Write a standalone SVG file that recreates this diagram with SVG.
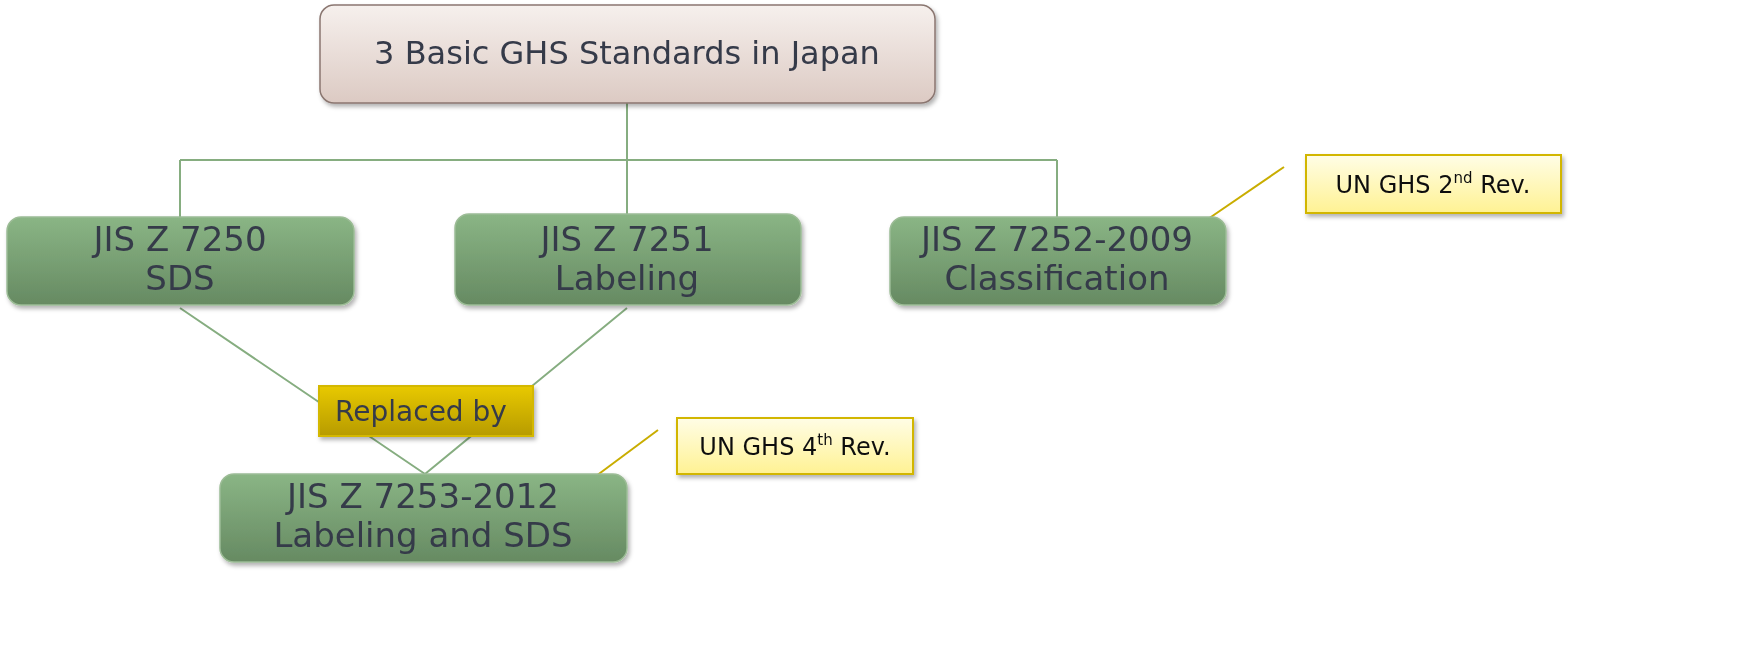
<svg xmlns="http://www.w3.org/2000/svg" width="1754" height="659" viewBox="0 0 1754 659">
<style>
text{font-family:"DejaVu Sans","Noto Sans",sans-serif;fill:#363a4a;text-anchor:middle}
.g{fill:url(#gg);stroke:#9cbc96;stroke-width:1.5}
.t{font-size:34px}
.c{fill:url(#yg);stroke:#d2b600;stroke-width:2}
.ct{font-size:24px;fill:#111}
.ln{stroke:#86ad80;stroke-width:2;fill:none}
.yl{stroke:#c9ad00;stroke-width:2}
</style>
<defs>
<linearGradient id="gg" x1="0" y1="0" x2="0" y2="1"><stop offset="0" stop-color="#8ab585"/><stop offset="1" stop-color="#668a62"/></linearGradient>
<linearGradient id="pg" x1="0" y1="0" x2="0" y2="1"><stop offset="0" stop-color="#f6f0ed"/><stop offset="1" stop-color="#dccac3"/></linearGradient>
<linearGradient id="yg" x1="0" y1="0" x2="0" y2="1"><stop offset="0" stop-color="#fffde6"/><stop offset="1" stop-color="#fff293"/></linearGradient>
<linearGradient id="og" x1="0" y1="0" x2="0" y2="1"><stop offset="0" stop-color="#e8c900"/><stop offset="1" stop-color="#b79b00"/></linearGradient>
<filter id="sh" x="-10%" y="-10%" width="120%" height="130%"><feDropShadow dx="2" dy="3" stdDeviation="2" flood-opacity="0.3"/></filter>
</defs>
<g id="connectors">
<path class="ln" d="M627 103V160M180 160H1057M180 160V217M627 160V214M1057 160V217M180 308L425 474M627 308L425 474"/>
<line class="yl" x1="1284" y1="167" x2="1208" y2="219"/>
<line class="yl" x1="658" y1="430" x2="588" y2="482"/>
</g>
<g id="top" filter="url(#sh)"><rect x="320" y="5" width="615" height="98" rx="14" fill="url(#pg)" stroke="#8a7670" stroke-width="1.5"/><text x="627" y="64" font-size="32">3 Basic GHS Standards in Japan</text></g>
<g id="n7250" filter="url(#sh)"><rect class="g" x="7" y="217" width="347" height="88" rx="14"/><text class="t" x="180" y="251">JIS Z 7250</text><text class="t" x="180" y="290">SDS</text></g>
<g id="n7251" filter="url(#sh)"><rect class="g" x="455" y="214" width="346" height="91" rx="14"/><text class="t" x="627" y="251">JIS Z 7251</text><text class="t" x="627" y="290">Labeling</text></g>
<g id="n7252" filter="url(#sh)"><rect class="g" x="890" y="217" width="336" height="88" rx="14"/><text class="t" x="1057" y="251">JIS Z 7252-2009</text><text class="t" x="1057" y="290">Classification</text></g>
<g id="n7253" filter="url(#sh)"><rect class="g" x="220" y="474" width="407" height="88" rx="14"/><text class="t" x="423" y="508">JIS Z 7253-2012</text><text class="t" x="423" y="547">Labeling and SDS</text></g>
<g id="replaced" filter="url(#sh)"><rect x="319" y="386" width="214" height="50" fill="url(#og)" stroke="#d4b800" stroke-width="2"/><text x="421" y="421" font-size="28">Replaced by</text></g>
<g id="un2" filter="url(#sh)"><rect class="c" x="1306" y="155" width="255" height="58"/><text class="ct" x="1433" y="193">UN GHS 2<tspan font-size="15" dy="-10">nd</tspan><tspan dy="10"> Rev.</tspan></text></g>
<g id="un4" filter="url(#sh)"><rect class="c" x="677" y="418" width="236" height="56"/><text class="ct" x="795" y="455">UN GHS 4<tspan font-size="15" dy="-10">th</tspan><tspan dy="10"> Rev.</tspan></text></g>
</svg>
